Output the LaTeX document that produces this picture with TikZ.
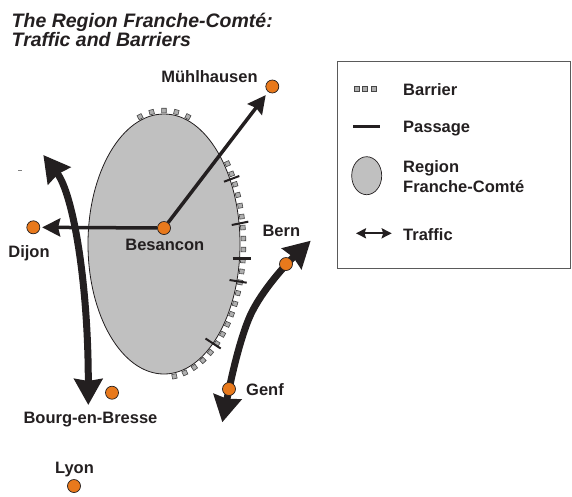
\documentclass[tikz,border=0pt]{standalone}
\usepackage{fontspec}
\setmainfont{Liberation Sans}
\usetikzlibrary{arrows.meta,decorations.markings}
\definecolor{ink}{RGB}{35,31,32}
\definecolor{dotorange}{RGB}{232,121,28}
\definecolor{regiongray}{RGB}{192,192,192}
\definecolor{barfill}{RGB}{175,175,175}
\definecolor{barline}{RGB}{70,70,70}
\definecolor{boxline}{RGB}{90,90,90}
\begin{document}
\begin{tikzpicture}[x=1pt,y=1pt,
  lbl/.style={inner sep=0pt, anchor=base, text=ink, font=\fontsize{16.5}{19}\selectfont\bfseries},
  legtxt/.style={lbl, anchor=base west},
  titletxt/.style={inner sep=0pt, anchor=base west, text=ink, font=\fontsize{19.5}{19.5}\selectfont\bfseries\itshape},
  city/.style={circle, draw=ink, line width=0.7pt, fill=dotorange, minimum size=13pt, inner sep=0pt},
  barsq/.style={rectangle, draw=barline, fill=barfill, line width=0.6pt, minimum size=4.6pt, inner sep=0pt},
  passline/.style={draw=ink, line width=2pt},
  route/.style={draw=ink, line width=3.5pt, -{Stealth[length=18pt,width=18pt,inset=2pt]}},
  traffic/.style={draw=ink, line width=7pt, {Stealth[length=26pt,width=28pt,inset=2pt]}-{Stealth[length=26pt,width=28pt,inset=2pt]}},
]
\useasboundingbox (0,0) rectangle (572,-496);

% region
\filldraw[fill=regiongray, draw=ink, line width=0.8pt] (164,-244) ellipse[x radius=76pt, y radius=130pt];

% barriers
\path[decorate, decoration={markings, mark=between positions 0 and 1 step 0.2499 with {\node[barsq, transform shape]{};}}]
  (164,-244) ++(107.5:79.5pt and 133.5pt) arc[start angle=107.5, end angle=72.5, x radius=79.5pt, y radius=133.5pt];
\path[decorate, decoration={markings, mark=between positions 0 and 1 step 11pt with {\node[barsq, transform shape]{};}}]
  (164,-244) ++(37:79.5pt and 133.5pt) arc[start angle=37, end angle=-84, x radius=79.5pt, y radius=133.5pt];

% passages
\draw[passline] (224,-181.7) -- (239.3,-176);
\draw[passline] (231.7,-225) -- (248.3,-221.7);
\draw[passline, line width=3pt] (232.7,-258.3) -- (251,-258.3);
\draw[passline] (229.5,-280) -- (246.7,-282.7);
\draw[passline] (205.5,-338.5) -- (220.7,-348.5);

% traffic
\coordinate (bernpos) at (286,-264);
\coordinate (genfpos) at (229,-389);
\coordinate (berntip) at (310.7,-240.7);
\coordinate (genftip) at (222.3,-422.3);
\coordinate (northtip) at (43.3,-155);
\coordinate (southtip) at (88.3,-405);
\draw[traffic] (northtip) .. controls (73.5,-194.5) and (88.3,-285) .. (southtip);
\draw[traffic] (berntip) .. controls (288.8,-261.4) and (259.4,-292.1) .. (248.3,-320) .. controls (237.2,-347.9) and (229.3,-387.7) .. (genftip);

% cities
\node[city] (muehl) at (272.3,-86.5) {};
\node[city] (bes) at (164,-228) {};
\node[city] (dijon) at (33.3,-227.3) {};
\node[city] (bourg) at (112,-392.7) {};
\node[city] (lyon) at (74,-486) {};
\node[city] (bern) at (bernpos) {};
\node[city] (genf) at (genfpos) {};

\draw[route, shorten >=2pt] (bes) -- (dijon);
\draw[route, shorten >=4pt] (bes) -- (muehl);

% labels
\node[lbl] (muehllbl) at (209.5,-82) {Mühlhausen};
\node[lbl] (beslbl) at (164.8,-250.7) {Besancon};
\node[lbl] (dijonlbl) at (29,-257.7) {Dijon};
\node[lbl] (bernlbl) at (281.3,-236) {Bern};
\node[lbl] (genflbl) at (265,-395) {Genf};
\node[lbl] (bourglbl) at (90.5,-423) {Bourg-en-Bresse};
\node[lbl] (lyonlbl) at (74.5,-473.3) {Lyon};

% title
\node[titletxt] (title1) at (11.5,-27) {The Region Franche-Comté:};
\node[titletxt] (title2) at (11.5,-46) {Traffic and Barriers};

% stray mark
\draw[gray, line width=0.5pt] (18.3,-170) -- (21.7,-170);

% legend
\draw[boxline, line width=1pt] (337,-61) rectangle (570,-268);
\node[barsq, minimum size=5pt] (lb1) at (356.7,-88.3) {};
\node[barsq, minimum size=5pt] (lb2) at (365,-88.3) {};
\node[barsq, minimum size=5pt] (lb3) at (373.3,-88.3) {};
\draw[passline, line width=2.5pt] (353,-126.7) -- (380,-126.7);
\filldraw[fill=regiongray, draw=ink, line width=0.7pt] (366.7,-175.7) ellipse[x radius=15pt, y radius=19pt];
\draw[ink, line width=2.3pt, {Stealth[length=10pt,width=10pt,inset=1.5pt]}-{Stealth[length=10pt,width=10pt,inset=1.5pt]}] (356,-233.3) -- (391.7,-233.3);
\node[legtxt] (lgbar) at (403,-95) {Barrier};
\node[legtxt] (lgpass) at (403,-132) {Passage};
\node[legtxt] (lgreg1) at (403,-172.3) {Region};
\node[legtxt] (lgreg2) at (403,-192.7) {Franche-Comté};
\node[legtxt] (lgtraf) at (403,-240) {Traffic};
\end{tikzpicture}
\end{document}
